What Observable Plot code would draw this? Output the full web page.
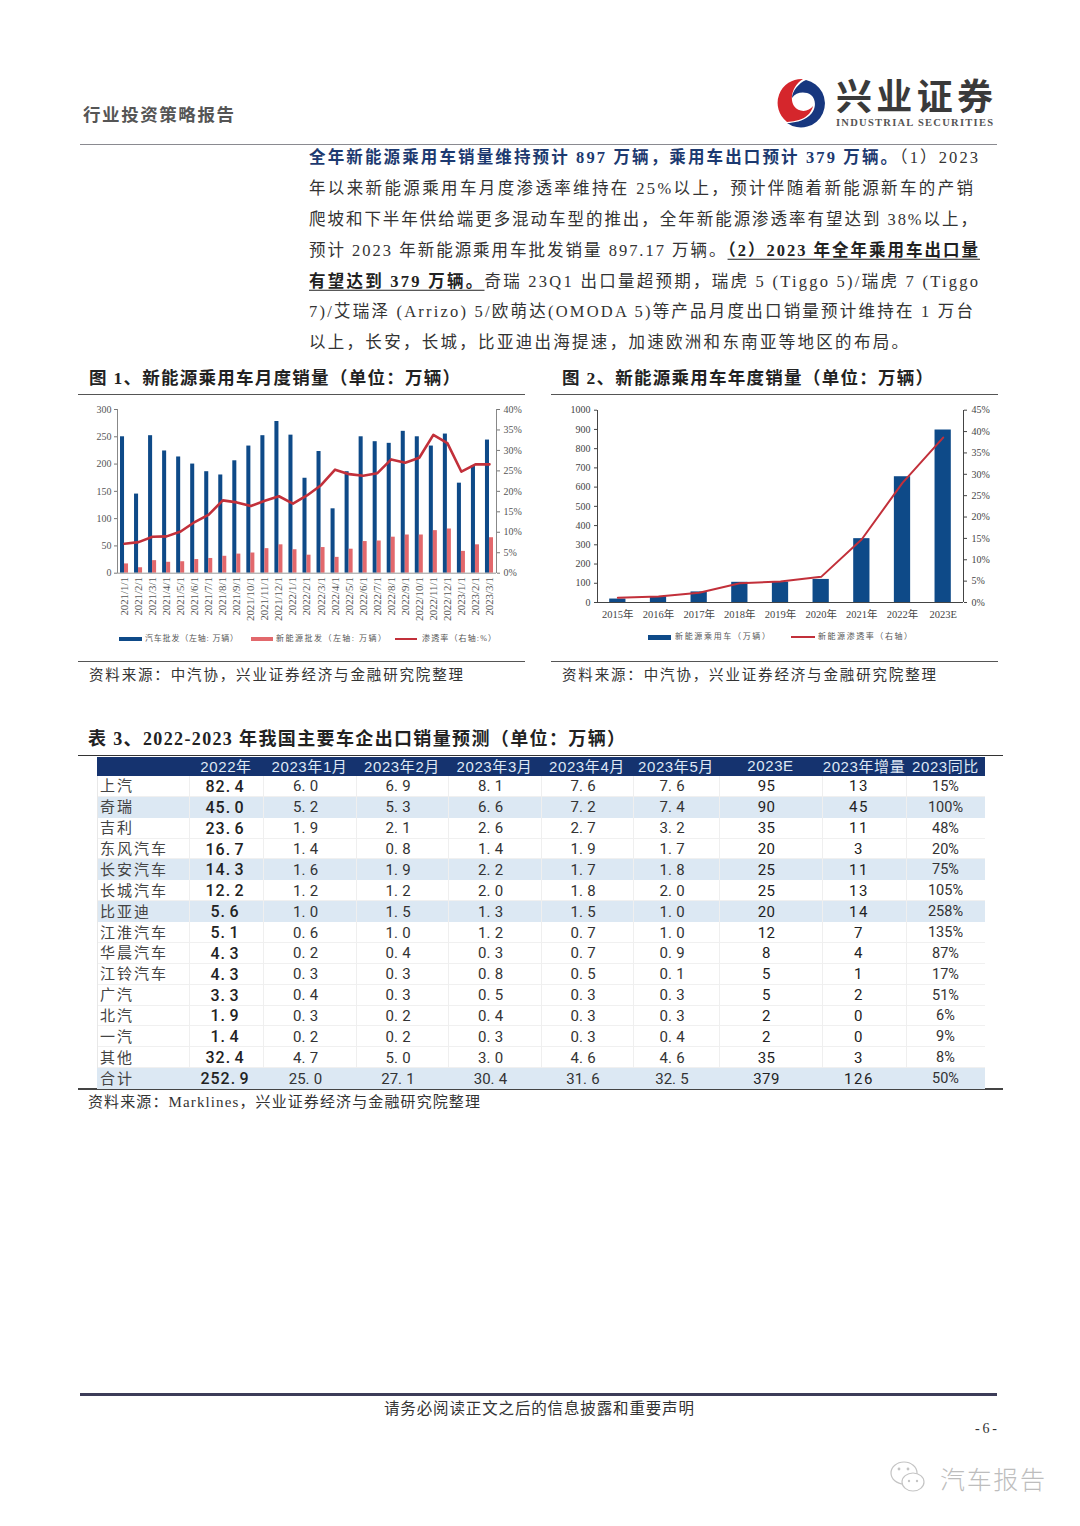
<!DOCTYPE html>
<html lang="zh">
<head>
<meta charset="utf-8">
<script src="https://cdn.jsdelivr.net/npm/d3@7"></script>
<script src="https://cdn.jsdelivr.net/npm/@observablehq/plot@0.6"></script>
<style>
html,body{margin:0;padding:0;background:#fff}
#page{position:relative;width:1080px;height:1526px;overflow:hidden;background:#fff;font-family:"Liberation Serif","Noto Sans CJK SC",serif;color:#333}
.t{position:absolute;white-space:nowrap;line-height:1;transform:translateY(-50%)}
.r{position:absolute}
.plot{position:absolute}
.c{position:absolute;display:flex;align-items:center;justify-content:center;box-sizing:border-box;white-space:nowrap}
.dot{display:inline-block;width:0.55em;text-align:left}
</style>
</head>
<body>
<div id="page"></div>
<script>
// ---------- Figure 1 data ----------
const months = ["2021/1/1","2021/2/1","2021/3/1","2021/4/1","2021/5/1","2021/6/1","2021/7/1","2021/8/1","2021/9/1","2021/10/1","2021/11/1","2021/12/1","2022/1/1","2022/2/1","2022/3/1","2022/4/1","2022/5/1","2022/6/1","2022/7/1","2022/8/1","2022/9/1","2022/10/1","2022/11/1","2022/12/1","2023/1/1","2023/2/1","2023/3/1"];
const autoWholesale = [250,145,252,224,213,200,186,180,206,233,252,278,253,174,223,118,186,250,241,238,260,250,233,255,165,197,244];
const nevWholesale = [17,10,23,20,21,25,27,31,35,37,45,52,43,33,47,29,44,58,59,66,70,70,78,81,40,52,65];
const monthlyPenetration = [7.2,7.6,8.9,9.0,10.2,12.5,14.3,17.8,17.3,16.4,17.7,18.8,17.0,19.0,21.5,25.3,24.2,23.8,24.4,27.8,27.0,28.2,33.8,31.8,24.8,26.6,26.6];
// ---------- Figure 2 data ----------
const years = ["2015年","2016年","2017年","2018年","2019年","2020年","2021年","2022年","2023E"];
const nevAnnual = [18,30,55,105,106,120,332,654,897];
const annualPenetration = [1.1,1.4,2.3,4.5,4.9,6.0,14.8,28.0,38.6];
// ---------- Table 3 data ----------
const tableHeader = ["","2022年","2023年1月","2023年2月","2023年3月","2023年4月","2023年5月","2023E","2023年增量","2023同比"];
const makers = ["上汽","奇瑞","吉利","东风汽车","长安汽车","长城汽车","比亚迪","江淮汽车","华晨汽车","江铃汽车","广汽","北汽","一汽","其他","合计"];
const sales2022 = ["82.4","45.0","23.6","16.7","14.3","12.2","5.6","5.1","4.3","4.3","3.3","1.9","1.4","32.4","252.9"];
const salesJan = ["6.0","5.2","1.9","1.4","1.6","1.2","1.0","0.6","0.2","0.3","0.4","0.3","0.2","4.7","25.0"];
const salesFeb = ["6.9","5.3","2.1","0.8","1.9","1.2","1.5","1.0","0.4","0.3","0.3","0.2","0.2","5.0","27.1"];
const salesMar = ["8.1","6.6","2.6","1.4","2.2","2.0","1.3","1.2","0.3","0.8","0.5","0.4","0.3","3.0","30.4"];
const salesApr = ["7.6","7.2","2.7","1.9","1.7","1.8","1.5","0.7","0.7","0.5","0.3","0.3","0.3","4.6","31.6"];
const salesMay = ["7.6","7.4","3.2","1.7","1.8","2.0","1.0","1.0","0.9","0.1","0.3","0.3","0.4","4.6","32.5"];
const sales2023E = ["95","90","35","20","25","25","20","12","8","5","5","2","2","35","379"];
const increment2023 = ["13","45","11","3","11","13","14","7","4","1","2","0","0","3","126"];
const yoy2023 = ["15%","100%","48%","20%","75%","105%","258%","135%","87%","17%","51%","6%","9%","8%","50%"];
const tableColumns = [makers,sales2022,salesJan,salesFeb,salesMar,salesApr,salesMay,sales2023E,increment2023,yoy2023];
const shadedRows = [1,4,6,14];
// ---------- Page text ----------
const reportName = "行业投资策略报告";
const sourceFig = "资料来源：中汽协，兴业证券经济与金融研究院整理";
const sourceTable = "资料来源：Marklines，兴业证券经济与金融研究院整理";
const fig1Title = "图 1、新能源乘用车月度销量（单位：万辆）";
const fig2Title = "图 2、新能源乘用车年度销量（单位：万辆）";
const tableTitle = "表 3、2022-2023 年我国主要车企出口销量预测（单位：万辆）";
const disclaimer = "请务必阅读正文之后的信息披露和重要声明";

const BLUE = "#0e4a88", PINK = "#e2686c", RED = "#c2303a";
const page = document.getElementById("page");
const SANS = '"Noto Sans CJK SC",sans-serif';
const SERIF = '"Liberation Serif","Noto Sans CJK SC",serif';

function text(html, x, y, w, size, css = "") {
  const el = document.createElement("div");
  el.className = "t";
  el.innerHTML = html;
  el.style.cssText = `left:${x}px;top:${y}px;font-size:${size}px;${css}`;
  page.appendChild(el);
  if (w) fit(el, w);
  return el;
}
function fit(el, w) {
  const nat = el.getBoundingClientRect().width;
  const n = el.textContent.length;
  el.style.letterSpacing = ((w - nat) / Math.max(1, n - 1)).toFixed(3) + "px";
}
function rect(x, y, w, h, color) {
  const el = document.createElement("div");
  el.className = "r";
  el.style.cssText = `left:${x}px;top:${y}px;width:${w}px;height:${h}px;background:${color}`;
  page.appendChild(el);
}

// ---------- Header ----------
text(reportName, 83, 116, 151, 17.5, "font-weight:700;color:#555;");
rect(80, 143.5, 917, 1.5, "#8a8a90");
const logo = document.createElementNS("http://www.w3.org/2000/svg", "svg");
logo.setAttribute("width", 52); logo.setAttribute("height", 52);
logo.setAttribute("viewBox", "-26 -26 52 52");
logo.style.cssText = "position:absolute;left:776px;top:77px";
logo.innerHTML = `
  <path d="M-15,20 A24,24 0 1 0 4,-23 C-3,-20 -10,-12 -10,-5 C-6,-11 3,-12 9,-8 C15,-3 14,8 7,13 C1,18 -8,20 -15,20Z" fill="#17377f"/>
  <path d="M1,-24 A24,24 0 0 0 -15,19 C-3,18 8,15 11,3 C7,9 -3,10 -8,3 C-13,-5 -9,-18 1,-24Z" fill="#d5262c"/>`;
page.appendChild(logo);
text("兴业证券", 836, 98, 157, 36, "font-weight:700;color:#3a3a3a;");
text("INDUSTRIAL SECURITIES", 836, 122.5, 157, 10.5, `font-family:"Liberation Serif";color:#555;font-weight:700;`);

// ---------- Body paragraph ----------
const navy = "font-weight:700;color:#1d3a70;";
const strong = "font-weight:700;color:#222;text-decoration:underline;text-underline-offset:3px;";
const bodyLines = [
  [`<span style="${navy}">全年新能源乘用车销量维持预计 897 万辆，乘用车出口预计 379 万辆。</span>（1）2023`, 158, 669],
  ["年以来新能源乘用车月度渗透率维持在 25%以上，预计伴随着新能源新车的产销", 189, 664],
  ["爬坡和下半年供给端更多混动车型的推出，全年新能源渗透率有望达到 38%以上，", 220, 668],
  [`预计 2023 年新能源乘用车批发销量 897.17 万辆。<span style="${strong}">（2）2023 年全年乘用车出口量</span>`, 251, 669],
  [`<span style="${strong}">有望达到 379 万辆。</span>奇瑞 23Q1 出口量超预期，瑞虎 5 (Tiggo 5)/瑞虎 7 (Tiggo`, 282, 669],
  ["7)/艾瑞泽 (Arrizo) 5/欧萌达(OMODA 5)等产品月度出口销量预计维持在 1 万台", 312, 664],
  ["以上，长安，长城，比亚迪出海提速，加速欧洲和东南亚等地区的布局。", 343, 599]
];
bodyLines.forEach(([h, y, w]) => text(h, 309, y, w, 16.5, "color:#333;font-weight:400;"));

// ---------- Figure titles and rules ----------
text(fig1Title, 89, 379, 371, 17.5, "font-weight:700;color:#222;");
text(fig2Title, 562, 379, 371, 17.5, "font-weight:700;color:#222;");
[[78,447],[551,447]].forEach(([x,w]) => { rect(x,394,w,1,"#555"); rect(x,661,w,1,"#555"); });
text(sourceFig, 89, 675, 374, 14.5, "color:#333;");
text(sourceFig, 562, 675, 374, 14.5, "color:#333;");

// ---------- Figure 1 ----------
const fig1 = months.map((m, i) => ({m, auto: autoWholesale[i], nev: nevWholesale[i], rate: monthlyPenetration[i]}));
const k1 = 300 / 40;
const p1 = Plot.plot({
  width: 450, height: 250,
  marginLeft: 39, marginRight: 32, marginTop: 9, marginBottom: 77.3,
  style: {background: "transparent", fontFamily: SERIF, fontSize: "10px", color: "#555"},
  x: {type: "band", domain: months, padding: 0, align: 0.5, round: false},
  y: {domain: [0, 300]},
  marks: [
    Plot.barY(fig1, {x: "m", y: "auto", fill: BLUE, insetLeft: 3, insetRight: 7}),
    Plot.barY(fig1, {x: "m", y: "nev", fill: PINK, insetLeft: 7, insetRight: 3}),
    Plot.ruleY([0], {stroke: "#999", strokeWidth: 1}),
    Plot.line(fig1, {x: "m", y: d => d.rate * k1, stroke: RED, strokeWidth: 2.6, curve: "linear"}),
    Plot.axisX({tickRotate: -90, tickSize: 0, tickPadding: 4, label: null, fontSize: 10.8, fill: "#555"}),
    Plot.axisY(d3.range(0, 301, 50), {anchor: "left", tickSize: 3, tickPadding: 3, label: null, stroke: "#777", fill: "#555"}),
    Plot.axisY(d3.range(0, 41, 5).map(v => v * k1), {anchor: "right", tickSize: 3, tickPadding: 4, label: null, stroke: "#777", fill: "#555", tickFormat: v => Math.round(v / k1) + "%"})
  ]
});
p1.classList.add("plot"); p1.style.left = "78px"; p1.style.top = "400px";
page.appendChild(p1);
rect(117, 409, 1, 164, "#888");
rect(496, 409, 1, 164, "#888");

// ---------- Figure 2 ----------
const fig2 = years.map((y, i) => ({y, sales: nevAnnual[i], rate: annualPenetration[i]}));
const k2 = 1000 / 45;
const p2 = Plot.plot({
  width: 447, height: 250,
  marginLeft: 46, marginRight: 35, marginTop: 9.7, marginBottom: 48,
  style: {background: "transparent", fontFamily: SERIF, fontSize: "10px", color: "#444"},
  x: {type: "band", domain: years, paddingInner: 0.6, paddingOuter: 0.3, align: 0.5, round: false},
  y: {domain: [0, 1000]},
  marks: [
    Plot.barY(fig2, {x: "y", y: "sales", fill: BLUE}),
    Plot.ruleY([0], {stroke: "#444", strokeWidth: 1}),
    Plot.line(fig2, {x: "y", y: d => d.rate * k2, stroke: RED, strokeWidth: 2, curve: "linear"}),
    Plot.axisX({tickSize: 0, tickPadding: 8, label: null, fontSize: 10.5, fill: "#444"}),
    Plot.axisY(d3.range(0, 1001, 100), {anchor: "left", tickSize: 3, tickPadding: 4, label: null, stroke: "#444", fill: "#444", tickFormat: d => String(d)}),
    Plot.axisY(d3.range(0, 46, 5).map(v => v * k2), {anchor: "right", tickSize: 3, tickPadding: 5, label: null, stroke: "#444", fill: "#444", tickFormat: v => Math.round(v / k2) + "%"})
  ]
});
p2.classList.add("plot"); p2.style.left = "551px"; p2.style.top = "400px";
page.appendChild(p2);
rect(597, 409.7, 1, 192.5, "#444");
rect(963, 409.7, 1, 192.5, "#444");

// ---------- Legends ----------
const legCss = "color:#555;";
rect(119, 637, 23, 3.5, BLUE); text("汽车批发（左轴: 万辆）", 145, 638.5, 93, 8, legCss);
rect(251, 637, 22, 3.5, PINK); text("新能源批发（左轴: 万辆）", 276, 638.5, 110, 8, legCss);
rect(395, 637.5, 22, 2.5, RED); text("渗透率（右轴:%）", 422, 638.5, 74, 8, legCss);
rect(648, 635, 23, 4.5, BLUE); text("新能源乘用车（万辆）", 675, 637, 95, 8, legCss);
rect(791, 636, 24, 2.2, RED); text("新能源渗透率（右轴）", 818, 637, 94, 8, legCss);

// ---------- Table 3 ----------
text(tableTitle, 88, 739, 537, 18, "font-weight:700;color:#222;");
rect(78, 754.5, 925, 1.5, "#333");
rect(78, 1088, 925, 1.5, "#444");
const colX = [97,189,263,356,448,541,633,719,822,906,985];
const colShift = [0,-1,-4,-4,-4,-4,-4,-4,-5,0];
const headY = 757, headH = 19, rowH = 20.87, rowTop = 776;
rect(97, headY, 888, headH, "#15336f");
makers.forEach((_, r) => {
  const y = rowTop + r * rowH;
  if (shadedRows.includes(r)) rect(97, y, 888, rowH, "#dce8f3");
  else rect(97, y + rowH - 1, 888, 1, "#f0f0f0");
});
colX.slice(1, -1).forEach(x => rect(x, rowTop, 1, 14 * rowH, "#efefef"));
rect(97, rowTop, 1, 14 * rowH, "#e8e8e8");
function cell(txt, x0, x1, y, h, css) {
  const el = document.createElement("div");
  el.className = "c";
  el.innerHTML = txt.replace(".", '<span class="dot">.</span>');
  el.style.cssText = `left:${x0}px;width:${x1-x0}px;top:${y}px;height:${h}px;font-family:Roboto,sans-serif;${css}`;
  page.appendChild(el);
}
tableHeader.forEach((h, c) => {
  if (h) cell(h, colX[c], colX[c+1], headY - 1.5, headH, `font-family:"Liberation Sans","Noto Sans CJK SC",sans-serif;font-size:15px;color:#dfe8f5;letter-spacing:0.6px;`);
});
tableColumns.forEach((col, c) => {
  col.forEach((v, r) => {
    const y = rowTop + r * rowH;
    if (c === 0) {
      text(v, 100, y + rowH / 2 - 2, 0, 15, `font-family:${SANS};color:#444;letter-spacing:2px;`);
      return;
    }
    const css =
      c === 1 ? "font-size:16px;font-weight:500;color:#222;letter-spacing:1px;" :
      c === 7 ? "font-size:15px;font-weight:400;color:#222;letter-spacing:0.4px;" :
      c === 8 ? "font-size:15px;font-weight:400;color:#222;letter-spacing:1.5px;" :
      c === 9 ? "font-size:14.5px;color:#333;" :
      "font-size:15px;color:#333;";
    cell(v, colX[c] + colShift[c], colX[c+1] + colShift[c], y, rowH, css);
  });
});
text(sourceTable, 88, 1102, 392, 15, "color:#333;");

// ---------- Footer ----------
rect(80, 1393, 917, 2.5, "#3c3c58");
text(disclaimer, 384, 1409, 310, 15.5, "color:#333;");
text("- 6 -", 975, 1429, 22, 14, `font-family:"Liberation Serif";color:#333;`);
const wx = document.createElementNS("http://www.w3.org/2000/svg", "svg");
wx.setAttribute("width", 40); wx.setAttribute("height", 36);
wx.style.cssText = "position:absolute;left:889px;top:1460px";
wx.innerHTML = `
  <g fill="none" stroke="#c4c4c4" stroke-width="1.2">
    <ellipse cx="15" cy="13" rx="13" ry="11"/>
    <ellipse cx="24" cy="22" rx="11" ry="9" fill="#fff"/>
  </g>
  <g fill="#c4c4c4"><circle cx="10" cy="9" r="1.4"/><circle cx="19" cy="9" r="1.4"/><circle cx="20" cy="21" r="1.2"/><circle cx="28" cy="21" r="1.2"/></g>`;
page.appendChild(wx);
text("汽车报告", 940, 1478, 105, 25, "color:#bdbdbd;font-family:" + SANS + ";font-weight:300;");
</script>
</body>
</html>
